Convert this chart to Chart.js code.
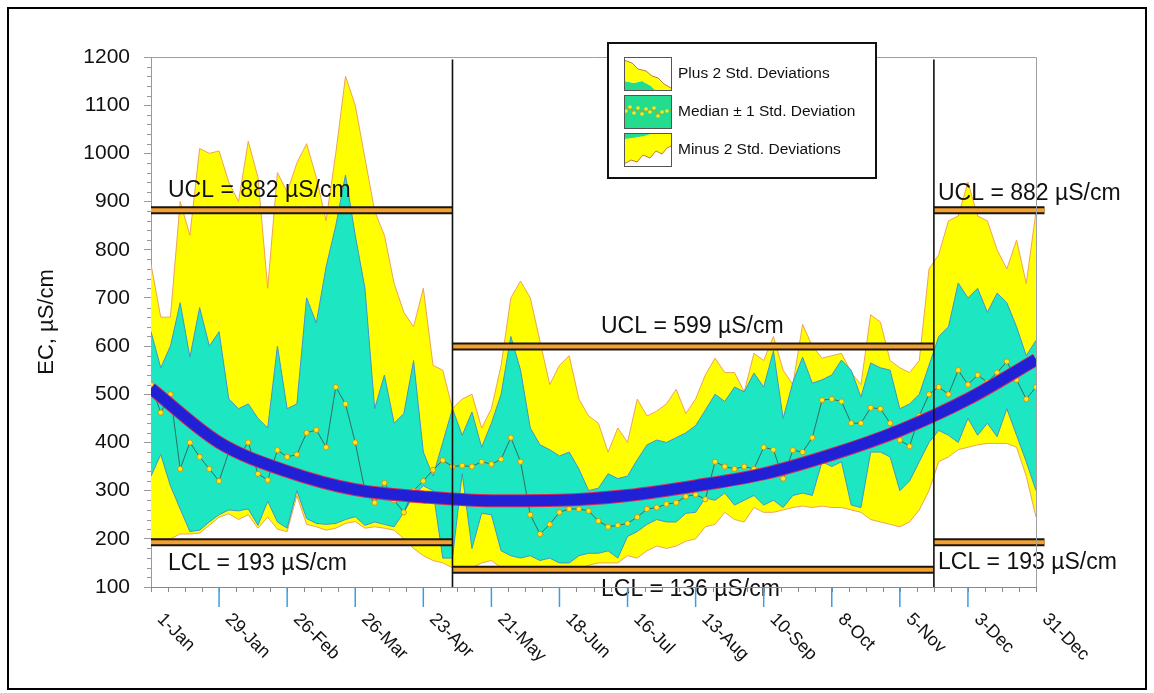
<!DOCTYPE html>
<html><head><meta charset="utf-8">
<script src="https://cdn.jsdelivr.net/npm/chart.js@4.4.1/dist/chart.umd.min.js"></script>
<style>html,body{margin:0;padding:0;background:#fff;}#wrap{width:1154px;height:693px;}</style>
</head><body><div id="wrap"><canvas id="c" width="1154" height="693"></canvas></div>
<script>
// ---------- DATA ----------
const days = [1,5,9,13,17,21,25,29,33,37,41,45,49,53,57,61,65,69,73,77,81,85,89,93,97,101,105,109,113,117,121,125,129,133,137,141,145,149,153,157,161,165,169,173,177,181,185,189,193,197,201,205,209,213,217,221,225,229,233,237,241,245,249,253,257,261,265,269,273,277,281,285,289,293,297,301,305,309,313,317,321,325,329,333,337,341,345,349,353,357,361,365];
const plus2SD = [770,660,660,900,830,1010,1000,1005,940,900,1025,950,720,960,920,980,1020,950,860,1000,1160,1100,990,880,830,730,670,640,720,560,550,470,490,500,430,470,560,700,735,700,610,520,560,580,490,455,440,380,430,400,490,455,465,480,510,460,490,540,575,545,545,505,585,570,620,550,520,645,600,575,580,585,545,520,665,650,570,555,545,570,760,790,860,870,940,870,860,800,760,820,730,880];
const plus1SD = [630,555,600,690,577,680,600,630,490,470,480,450,430,600,470,480,700,648,764,850,955,830,720,470,540,440,460,570,380,330,400,470,415,463,390,440,500,620,550,430,395,385,372,380,345,300,305,335,325,330,364,395,405,400,410,420,435,467,500,485,515,505,544,515,590,450,525,577,523,530,540,571,550,494,565,555,550,470,480,500,560,620,640,731,700,720,670,710,690,640,580,612];
const minus1SD = [330,375,310,262,215,218,235,250,260,258,262,228,278,235,222,300,242,232,230,232,240,246,228,235,230,225,255,290,310,300,160,160,335,180,253,250,175,165,160,165,155,160,150,150,165,170,170,175,160,205,215,230,240,235,235,253,255,285,280,295,270,280,290,270,280,265,290,295,290,360,350,360,270,265,380,380,370,300,320,360,400,425,415,400,450,415,440,412,470,415,360,300];
const minus2SD = [200,200,200,210,210,212,228,245,252,240,250,222,245,220,215,290,230,225,218,222,232,236,222,225,222,218,200,180,165,155,150,140,140,140,150,155,140,135,135,135,133,135,133,133,138,145,150,150,150,165,160,175,185,180,185,195,200,225,230,255,240,235,265,255,255,260,265,268,265,268,265,265,260,255,240,235,230,225,235,260,300,360,370,385,390,395,398,398,398,390,330,245];
const medianEC = [520,462,500,345,400,370,345,320,380,370,400,335,322,384,370,375,420,426,390,515,480,400,300,275,316,280,255,300,320,343,363,350,352,350,360,355,365,410,360,250,210,230,255,262,262,258,237,225,228,232,245,262,265,272,275,288,292,282,360,350,345,350,345,390,385,325,384,380,410,488,490,485,440,440,472,470,440,405,392,455,500,515,500,550,520,540,525,545,568,530,490,515];
const trendDays = [1,29,57,85,113,141,169,197,225,253,281,309,337,365];
const trendEC = [512,400,340,302,287,279,280,290,310,335,375,425,490,572];
const tickDays = [1,29,57,85,113,141,169,197,225,253,281,309,337,365];
const tickLabels = ['1-Jan','29-Jan','26-Feb','26-Mar','23-Apr','21-May','18-Jun','16-Jul','13-Aug','10-Sep','8-Oct','5-Nov','3-Dec','31-Dec'];
const segmentBounds = [1,125,323,365];
const uclValues = [882,599,882];
const lclValues = [193,136,193];
const legendLabels = ['Plus 2 Std. Deviations','Median \u00b1 1 Std. Deviation','Minus 2 Std. Deviations'];
const yAxisTitle = 'EC, \u00b5S/cm';
const unitText = '\u00b5S/cm';

// ---------- STYLE ----------
const FONT = "'Liberation Sans', Arial, Helvetica, sans-serif";
const YELLOW = '#ffff00', CYAN = '#1de6c3', ORANGE_EDGE = '#f0a258', CYAN_EDGE = '#3f96cf';
const LIMIT_ORANGE = '#f2a02e', LIMIT_DARK = '#1c1410';
const OVERHANG = 3.5;

const pts = (xs, ys) => xs.map((d, i) => ({x: d, y: ys[i]}));
function limitPoints(values) {
  const out = [];
  for (let i = 0; i < values.length; i++) {
    const x0 = segmentBounds[i];
    const x1 = segmentBounds[i + 1] + (i === values.length - 1 ? OVERHANG : 0);
    out.push({x: x0, y: values[i]}, {x: x1, y: values[i]});
    if (i < values.length - 1) out.push({x: x1, y: null});
  }
  return out;
}
const lineBase = {pointRadius: 0, tension: 0, borderJoinStyle: 'round'};

const datasets = [
  Object.assign({label: 'plus2', data: pts(days, plus2SD), borderColor: ORANGE_EDGE, borderWidth: 1, backgroundColor: YELLOW, fill: '+1', order: 100}, lineBase),
  Object.assign({label: 'minus2', data: pts(days, minus2SD), borderColor: ORANGE_EDGE, borderWidth: 1, fill: false, order: 99}, lineBase),
  Object.assign({label: 'plus1', data: pts(days, plus1SD), borderColor: CYAN_EDGE, borderWidth: 1, backgroundColor: CYAN, fill: '+1', order: 98}, lineBase),
  Object.assign({label: 'minus1', data: pts(days, minus1SD), borderColor: CYAN_EDGE, borderWidth: 1, fill: false, order: 97}, lineBase),
  {label: 'median', data: pts(days, medianEC), borderColor: '#2f6f62', borderWidth: 1, fill: false, tension: 0,
   pointRadius: 2.6, pointBackgroundColor: '#ffe81a', pointBorderColor: '#c88a10', pointBorderWidth: 0.8, order: 90},
  {label: 'trendEdge', data: pts(trendDays, trendEC), borderColor: '#d8285a', borderWidth: 13, pointRadius: 0, cubicInterpolationMode: 'monotone', fill: false, order: 80},
  {label: 'trend', data: pts(trendDays, trendEC), borderColor: '#2020d6', borderWidth: 11, pointRadius: 0, cubicInterpolationMode: 'monotone', fill: false, order: 79},
  {label: 'uclDark', data: limitPoints(uclValues), borderColor: LIMIT_DARK, borderWidth: 8, pointRadius: 0, fill: false, clip: false, borderCapStyle: 'butt', order: 60},
  {label: 'uclOrange', data: limitPoints(uclValues), borderColor: LIMIT_ORANGE, borderWidth: 4, pointRadius: 0, fill: false, clip: false, borderCapStyle: 'butt', order: 59},
  {label: 'lclDark', data: limitPoints(lclValues), borderColor: LIMIT_DARK, borderWidth: 8, pointRadius: 0, fill: false, clip: false, borderCapStyle: 'butt', order: 58},
  {label: 'lclOrange', data: limitPoints(lclValues), borderColor: LIMIT_ORANGE, borderWidth: 4, pointRadius: 0, fill: false, clip: false, borderCapStyle: 'butt', order: 57}
];

function drawLegend(ctx) {
  const bx = 608, by = 43, bw = 268, bh = 135;
  ctx.save();
  ctx.fillStyle = '#fff';
  ctx.fillRect(bx, by, bw, bh);
  ctx.lineWidth = 2; ctx.strokeStyle = '#111';
  ctx.strokeRect(bx, by, bw, bh);
  const ix = 624, iw = 47, ih = 33;
  const rows = [57, 95, 133];
  // icon 1
  let y0 = rows[0];
  ctx.save(); ctx.beginPath(); ctx.rect(ix, y0, iw, ih); ctx.clip();
  ctx.fillStyle = '#fff'; ctx.fillRect(ix, y0, iw, ih);
  ctx.fillStyle = '#24dc8e';
  ctx.beginPath(); ctx.moveTo(ix, y0 + 24); ctx.lineTo(ix + 10, y0 + 26); ctx.lineTo(ix + 18, y0 + 24); ctx.lineTo(ix + 27, y0 + 29); ctx.lineTo(ix + 31, y0 + ih); ctx.lineTo(ix, y0 + ih); ctx.closePath(); ctx.fill();
  ctx.fillStyle = YELLOW;
  const top1 = [[0,3],[8,6],[14,12],[22,14],[28,19],[34,21],[40,27],[47,31]];
  ctx.beginPath(); ctx.moveTo(ix, y0 + ih); top1.forEach(p => ctx.lineTo(ix + p[0], y0 + p[1])); ctx.lineTo(ix + iw, y0 + ih);
  ctx.lineTo(ix + 31, y0 + ih); ctx.lineTo(ix + 27, y0 + 29); ctx.lineTo(ix + 18, y0 + 24); ctx.lineTo(ix + 10, y0 + 26); ctx.lineTo(ix, y0 + 24); ctx.closePath(); ctx.fill();
  ctx.strokeStyle = '#c8782a'; ctx.lineWidth = 1; ctx.beginPath(); top1.forEach((p, i) => i ? ctx.lineTo(ix + p[0], y0 + p[1]) : ctx.moveTo(ix + p[0], y0 + p[1])); ctx.stroke();
  ctx.restore();
  // icon 2
  y0 = rows[1];
  ctx.fillStyle = '#24dc8e'; ctx.fillRect(ix, y0, iw, ih);
  const zig = [[2,16],[6,12],[10,18],[14,13],[18,19],[22,14],[26,17],[30,13],[34,21],[38,17],[43,16],[47,16]];
  ctx.strokeStyle = '#c89a10'; ctx.lineWidth = 1.2; ctx.beginPath(); zig.forEach((p, i) => i ? ctx.lineTo(ix + p[0], y0 + p[1]) : ctx.moveTo(ix + p[0], y0 + p[1])); ctx.stroke();
  ctx.fillStyle = '#ffe81a'; zig.slice(0, -1).forEach(p => { ctx.beginPath(); ctx.arc(ix + p[0], y0 + p[1], 1.8, 0, Math.PI * 2); ctx.fill(); });
  // icon 3
  y0 = rows[2];
  ctx.save(); ctx.beginPath(); ctx.rect(ix, y0, iw, ih); ctx.clip();
  ctx.fillStyle = '#fff'; ctx.fillRect(ix, y0, iw, ih);
  const bot3 = [[0,31],[7,27],[13,29],[19,22],[26,25],[32,18],[38,21],[43,15],[47,13]];
  ctx.fillStyle = YELLOW; ctx.beginPath(); ctx.moveTo(ix, y0); ctx.lineTo(ix + iw, y0); bot3.slice().reverse().forEach(p => ctx.lineTo(ix + p[0], y0 + p[1])); ctx.closePath(); ctx.fill();
  ctx.fillStyle = '#24dc8e'; ctx.beginPath(); ctx.moveTo(ix, y0); ctx.lineTo(ix + 30, y0); ctx.lineTo(ix + 20, y0 + 3); ctx.lineTo(ix + 8, y0 + 5); ctx.lineTo(ix, y0 + 6); ctx.closePath(); ctx.fill();
  ctx.strokeStyle = '#c8782a'; ctx.lineWidth = 1; ctx.beginPath(); bot3.forEach((p, i) => i ? ctx.lineTo(ix + p[0], y0 + p[1]) : ctx.moveTo(ix + p[0], y0 + p[1])); ctx.stroke();
  ctx.restore();
  ctx.strokeStyle = '#555'; ctx.lineWidth = 1;
  rows.forEach(r => ctx.strokeRect(ix + 0.5, r + 0.5, iw, ih));
  ctx.fillStyle = '#111'; ctx.font = '15.5px ' + FONT; ctx.textAlign = 'left'; ctx.textBaseline = 'middle';
  legendLabels.forEach((t, i) => ctx.fillText(t, 678, rows[i] + 17));
  ctx.restore();
}

const decor = {
  id: 'decor',
  beforeDraw(chart) {
    const c = chart.ctx; c.save(); c.fillStyle = '#fff'; c.fillRect(0, 0, chart.width, chart.height); c.restore();
  },
  afterDatasetsDraw(chart) {
    const {ctx, chartArea: a, scales: {x, y}} = chart;
    ctx.save();
    ctx.strokeStyle = '#111'; ctx.lineWidth = 1.6;
    segmentBounds.slice(1, -1).forEach(d => {
      const px = x.getPixelForValue(d);
      ctx.beginPath(); ctx.moveTo(px, y.getPixelForValue(1195)); ctx.lineTo(px, a.bottom); ctx.stroke();
    });
    ctx.fillStyle = '#111'; ctx.font = '23px ' + FONT; ctx.textBaseline = 'middle'; ctx.textAlign = 'left';
    const labelX = [168, 601, 938];
    const uclOff = [-20, -20, -17];
    const lclOff = [21, 20, 20];
    for (let i = 0; i < uclValues.length; i++) {
      ctx.fillText('UCL = ' + uclValues[i] + ' ' + unitText, labelX[i], y.getPixelForValue(uclValues[i]) + uclOff[i]);
      ctx.fillText('LCL = ' + lclValues[i] + ' ' + unitText, labelX[i], y.getPixelForValue(lclValues[i]) + lclOff[i]);
    }
    ctx.restore();
  },
  afterDraw(chart) {
    const {ctx, chartArea: a, scales: {x, y}} = chart;
    ctx.save();
    ctx.strokeStyle = '#a0a0a0'; ctx.lineWidth = 1;
    ctx.beginPath(); ctx.moveTo(a.left, a.top + 0.5); ctx.lineTo(a.right + 0.5, a.top + 0.5); ctx.lineTo(a.right + 0.5, a.bottom); ctx.stroke();
    ctx.strokeStyle = '#888';
    ctx.beginPath(); ctx.moveTo(a.left, a.bottom + 0.5); ctx.lineTo(a.right + 1, a.bottom + 0.5); ctx.stroke();
    for (let d = tickDays[0]; d <= tickDays[tickDays.length - 1]; d += 7) {
      const px = Math.round(x.getPixelForValue(d)) + 0.5;
      ctx.beginPath(); ctx.moveTo(px, a.bottom); ctx.lineTo(px, a.bottom + 5); ctx.stroke();
    }
    ctx.strokeStyle = '#3a9ee0'; ctx.lineWidth = 1.5;
    tickDays.slice(1, -1).forEach(d => {
      const px = x.getPixelForValue(d);
      ctx.beginPath(); ctx.moveTo(px, a.bottom); ctx.lineTo(px, a.bottom + 20); ctx.stroke();
    });
    ctx.strokeStyle = '#999'; ctx.lineWidth = 1;
    for (let v = 100; v <= 1200; v += 20) {
      if (v % 100 === 0) continue;
      const py = Math.round(y.getPixelForValue(v)) + 0.5;
      ctx.beginPath(); ctx.moveTo(a.left - 4, py); ctx.lineTo(a.left, py); ctx.stroke();
    }
    ctx.fillStyle = '#111'; ctx.font = '18px ' + FONT; ctx.textAlign = 'left'; ctx.textBaseline = 'alphabetic';
    tickDays.forEach((d, i) => {
      const px = x.getPixelForValue(d);
      ctx.save(); ctx.translate(px + 5.5, a.bottom + 33); ctx.rotate(Math.PI / 4);
      ctx.fillText(tickLabels[i], 0, 0); ctx.restore();
    });
    drawLegend(ctx);
    ctx.strokeStyle = '#000'; ctx.lineWidth = 2;
    ctx.strokeRect(8, 8, 1138, 681);
    ctx.restore();
  }
};

new Chart(document.getElementById('c'), {
  type: 'line',
  data: {datasets},
  options: {
    responsive: false, animation: false, devicePixelRatio: 1,
    layout: {padding: {left: 0, top: 57, right: 118, bottom: 106}},
    plugins: {legend: {display: false}, tooltip: {enabled: false}, filler: {propagate: false}},
    scales: {
      x: {type: 'linear', min: 1, max: 365, display: false},
      y: {
        min: 100, max: 1200,
        afterFit(s) { s.width = 151; },
        ticks: {stepSize: 100, font: {family: FONT, size: 21}, color: '#111', padding: 14, callback: v => String(v)},
        grid: {drawOnChartArea: false, drawTicks: true, tickLength: 7, color: '#999', lineWidth: 1},
        border: {color: '#999', width: 1},
        title: {display: true, text: yAxisTitle, font: {family: FONT, size: 22}, color: '#111', padding: {top: 34, bottom: 0}}
      }
    }
  },
  plugins: [decor]
});
</script></body></html>
